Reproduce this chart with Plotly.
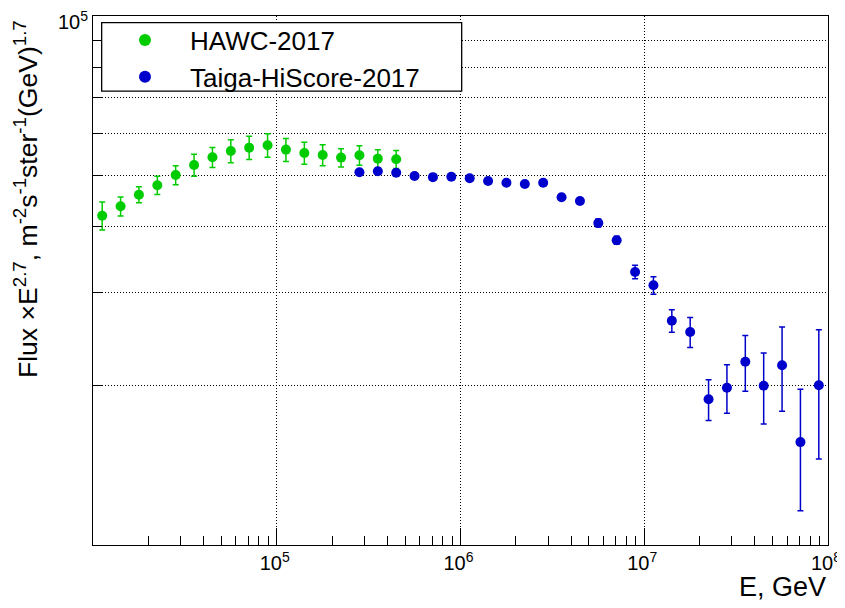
import plotly.graph_objects as go

# ---------------- data ----------------
hawc_energy = [11220, 14130, 17780, 22390, 28180, 35480, 44670, 56230, 70790,
               89130, 112200, 141300, 177800, 223900, 281800, 354800, 446700]
hawc_flux = [41930, 43690, 45940, 47860, 50060, 52290, 54080, 55580, 56380,
             56980, 55900, 55080, 54600, 53990, 54540, 53750, 53610]
hawc_err = [2550, 1800, 1600, 1900, 2070, 2500, 2350, 2800, 2850,
            2900, 2800, 2650, 2500, 2150, 2300, 2100, 2100]

taiga_energy = [281800, 354800, 446700, 562300, 707900, 891300, 1122000, 1413000,
                1778000, 2239000, 2818000, 3548000, 4467000, 5623000, 7079000,
                8913000, 11220000, 14130000, 17780000, 22390000, 28180000,
                35480000, 44670000, 56230000, 70790000, 89130000]
taiga_flux = [50650, 50870, 50560, 49840, 49590, 49690, 49350, 48770, 48410,
              48130, 48410, 45430, 44700, 40630, 37670, 32820, 30970, 26550,
              25270, 18860, 19830, 22210, 20000, 21860, 15650, 20040]
taiga_err = [500, 500, 500, 450, 450, 450, 450, 450, 450, 450, 500, 550, 600,
             700, 650, 960, 1190, 1300, 1650, 1660, 2090, 2680, 3075, 3955,
             4045, 5495]

series_names = ["HAWC-2017", "Taiga-HiScore-2017"]
x_tick_vals = [1e5, 1e6, 1e7, 1e8]
x_tick_text = ["10<sup>5</sup>", "10<sup>6</sup>", "10<sup>7</sup>", "10<sup>8</sup>"]
y_tick_vals = [20000, 30000, 40000, 50000, 60000, 70000, 80000, 90000, 100000]
y_tick_text = ["", "", "", "", "", "", "", "", "10<sup>5</sup>"]

GREEN = "#00cc00"
BLUE = "#0000cc"
FONT = "Liberation Sans, Arial, Helvetica, sans-serif"
GRID_DASH = "1px,2px"

fig = go.Figure()
fig.add_trace(go.Scatter(
    x=hawc_energy, y=hawc_flux, mode="markers", name=series_names[0],
    marker=dict(color=GREEN, size=10, line=dict(width=0)),
    error_y=dict(type="data", array=hawc_err, color=GREEN, thickness=1.5, width=3),
))
fig.add_trace(go.Scatter(
    x=taiga_energy, y=taiga_flux, mode="markers", name=series_names[1],
    marker=dict(color=BLUE, size=10, line=dict(width=0)),
    error_y=dict(type="data", array=taiga_err, color=BLUE, thickness=1.5, width=3),
))

minor_x = [m * 10 ** k for k in range(4, 8) for m in range(2, 10)]

fig.update_xaxes(
    type="log", range=[4, 8], automargin=False,
    tickmode="array", tickvals=x_tick_vals, ticktext=x_tick_text,
    ticks="inside", ticklen=17, tickwidth=1, tickcolor="black",
    tickfont=dict(size=20, family=FONT, color="black"),
    ticklabeloverflow="allow", ticklabelshift=-2,
    showline=True, linecolor="black", linewidth=1, mirror=True,
    showgrid=True, gridcolor="black", gridwidth=1, griddash=GRID_DASH,
    zeroline=False,
    minor=dict(tickmode="array", tickvals=minor_x, ticks="inside", ticklen=9,
               tickwidth=1, tickcolor="black", showgrid=False),
)
fig.update_yaxes(
    type="log", range=[4, 5], automargin=False,
    tickmode="array", tickvals=y_tick_vals, ticktext=y_tick_text,
    ticks="inside", ticklen=9, tickwidth=1, tickcolor="black",
    tickfont=dict(size=20, family=FONT, color="black"),
    ticklabeloverflow="allow", ticklabelshift=6,
    showline=True, linecolor="black", linewidth=1, mirror=True,
    showgrid=True, gridcolor="black", gridwidth=1, griddash=GRID_DASH,
    zeroline=False,
)

# page body has an 8px margin, so the figure is 8px smaller in each direction
fig.update_layout(
    width=837, height=600,
    margin=dict(l=85, r=17, t=8, b=63, autoexpand=False),
    plot_bgcolor="white", paper_bgcolor="white",
    font=dict(family=FONT, color="black"),
    showlegend=True,
    legend=dict(
        x=0.0095, xanchor="left", y=0.999, yanchor="top",
        bgcolor="rgba(0,0,0,0)", borderwidth=0,
        font=dict(size=26, family=FONT, color="black"),
        itemwidth=80, itemsizing="constant",
    ),
    shapes=[dict(
        type="rect", xref="paper", yref="paper",
        x0=0.0118, x1=0.5016, y0=0.858, y1=0.9873,
        line=dict(color="black", width=1.3), fillcolor="white", layer="above",
    )],
    annotations=[
        dict(
            text="Flux \u00d7E<sup>2.7</sup>, m<sup>-2</sup>s<sup>-1</sup>ster<sup>-1</sup>(GeV)<sup>1.7</sup>",
            xref="paper", yref="paper", x=-0.0912, y=0.996, xanchor="center", yanchor="top",
            textangle=-90, showarrow=False, font=dict(size=26.6, family=FONT, color="black"),
        ),
        dict(
            text="E, GeV", xref="paper", yref="paper", x=1.0, y=-0.0794,
            xanchor="right", yanchor="middle", showarrow=False,
            font=dict(size=27, family=FONT, color="black"),
        ),
    ],
)

fig.write_html("out.html")
